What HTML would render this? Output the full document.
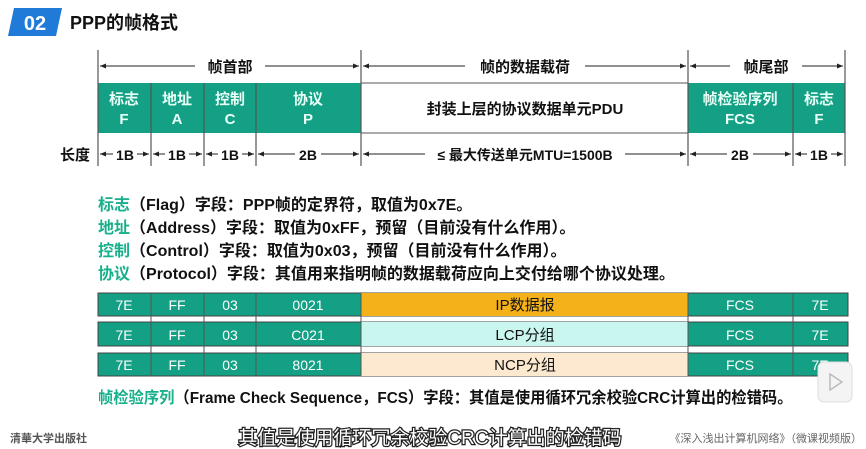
<!DOCTYPE html>
<html><head><meta charset="utf-8"><style>
body{margin:0;width:866px;height:449px;background:#fff;overflow:hidden;position:relative;font-family:"Liberation Sans","Noto Sans CJK SC",sans-serif;}
.a{position:absolute;white-space:nowrap;}
.t{font-weight:bold;font-size:16px;color:#111;transform-origin:0 50%;}
.g{color:#18b08c;}
</style></head><body>
<svg width="866" height="449" style="position:absolute;left:0;top:0" font-family="Liberation Sans, Noto Sans CJK SC, sans-serif">
<defs><marker id="ar" markerWidth="6" markerHeight="6" refX="6" refY="3" orient="auto-start-reverse"><path d="M0,0.5 L6,3 L0,5.5z" fill="#222"/></marker></defs>
<polygon points="14,8 62,8 56,36 8,36" fill="#1f7ad8"/>
<text x="35" y="30" fill="#fff" font-size="20" font-weight="bold" text-anchor="middle">02</text>
<text x="70" y="29" fill="#111" font-size="18" font-weight="bold">PPP的帧格式</text>
<rect x="98" y="83" width="263" height="50" fill="#14a085"/>
<rect x="688" y="83" width="157" height="50" fill="#14a085"/>
<rect x="361" y="83" width="327" height="50" fill="#fff" stroke="#555" stroke-width="1"/>
<g stroke="#555" stroke-width="1.2">
<line x1="98" y1="50" x2="98" y2="166"/><line x1="151" y1="83" x2="151" y2="166"/><line x1="204" y1="83" x2="204" y2="166"/><line x1="256" y1="83" x2="256" y2="166"/><line x1="361" y1="50" x2="361" y2="166"/><line x1="688" y1="50" x2="688" y2="166"/><line x1="793" y1="83" x2="793" y2="166"/><line x1="845" y1="50" x2="845" y2="166"/>
</g>
<g stroke="#222" stroke-width="1" marker-start="url(#ar)" marker-end="url(#ar)">
<line x1="100" y1="66" x2="359" y2="66"/><line x1="363" y1="66" x2="686" y2="66"/><line x1="690" y1="66" x2="843" y2="66"/>
<line x1="100" y1="154" x2="149" y2="154"/><line x1="153" y1="154" x2="202" y2="154"/><line x1="206" y1="154" x2="254" y2="154"/><line x1="258" y1="154" x2="359" y2="154"/><line x1="363" y1="154" x2="686" y2="154"/><line x1="690" y1="154" x2="791" y2="154"/><line x1="795" y1="154" x2="843" y2="154"/>
</g>
<g font-weight="bold" font-size="15" text-anchor="middle" fill="#111">
<rect x="195" y="56" width="70" height="20" fill="#fff"/><text x="230" y="72">帧首部</text>
<rect x="465" y="56" width="120" height="20" fill="#fff"/><text x="525" y="72">帧的数据载荷</text>
<rect x="730" y="56" width="72" height="20" fill="#fff"/><text x="766" y="72">帧尾部</text>
<text x="525" y="114">封装上层的协议数据单元PDU</text>
<text x="75" y="160">长度</text>
</g>
<g font-weight="bold" font-size="14" text-anchor="middle" fill="#111">
<rect x="113" y="145" width="24" height="18" fill="#fff"/><text x="125" y="160">1B</text>
<rect x="165" y="145" width="24" height="18" fill="#fff"/><text x="177" y="160">1B</text>
<rect x="218" y="145" width="24" height="18" fill="#fff"/><text x="230" y="160">1B</text>
<rect x="295" y="145" width="26" height="18" fill="#fff"/><text x="308" y="160">2B</text>
<rect x="425" y="145" width="200" height="18" fill="#fff"/><text x="525" y="160">≤ 最大传送单元MTU=1500B</text>
<rect x="727" y="145" width="26" height="18" fill="#fff"/><text x="740" y="160">2B</text>
<rect x="807" y="145" width="24" height="18" fill="#fff"/><text x="819" y="160">1B</text>
</g>
<g font-weight="bold" font-size="15" text-anchor="middle" fill="#e8fff8">
<text x="124" y="104">标志</text><text x="124" y="124">F</text>
<text x="177" y="104">地址</text><text x="177" y="124">A</text>
<text x="230" y="104">控制</text><text x="230" y="124">C</text>
<text x="308" y="104">协议</text><text x="308" y="124">P</text>
<text x="740" y="104">帧检验序列</text><text x="740" y="124">FCS</text>
<text x="819" y="104">标志</text><text x="819" y="124">F</text>
</g>
<g>
<rect x="98" y="293" width="750" height="23" fill="#14a085" stroke="#444"/>
<rect x="361" y="293" width="327" height="23" fill="#f5b11a"/>
<rect x="98" y="322" width="750" height="24" fill="#14a085" stroke="#444"/>
<rect x="361" y="322" width="327" height="24" fill="#c9f6ef"/>
<rect x="98" y="353" width="750" height="23" fill="#14a085" stroke="#444"/>
<rect x="361" y="353" width="327" height="23" fill="#fde9cf"/>
</g>
<g stroke="#555" stroke-width="1">
<line x1="151" y1="293" x2="151" y2="376"/><line x1="204" y1="293" x2="204" y2="376"/><line x1="256" y1="293" x2="256" y2="376"/><line x1="361" y1="293" x2="361" y2="376"/><line x1="688" y1="293" x2="688" y2="376"/><line x1="793" y1="293" x2="793" y2="376"/>
</g>
<g font-size="14" text-anchor="middle" fill="#fff">
<text x="124" y="310">7E</text><text x="177" y="310">FF</text><text x="230" y="310">03</text><text x="308" y="310">0021</text><text x="740" y="310">FCS</text><text x="820" y="310">7E</text>
<text x="124" y="340">7E</text><text x="177" y="340">FF</text><text x="230" y="340">03</text><text x="308" y="340">C021</text><text x="740" y="340">FCS</text><text x="820" y="340">7E</text>
<text x="124" y="370">7E</text><text x="177" y="370">FF</text><text x="230" y="370">03</text><text x="308" y="370">8021</text><text x="740" y="370">FCS</text><text x="820" y="370">7E</text>
</g>
<g font-size="15" text-anchor="middle" fill="#111">
<text x="525" y="310">IP数据报</text><text x="525" y="340">LCP分组</text><text x="525" y="370">NCP分组</text>
</g>
<rect x="818" y="362" width="34" height="40" rx="6" fill="#f4f4f4" stroke="#ddd"/>
<path d="M830,374 L842,382 L830,390z" fill="none" stroke="#bbb" stroke-width="1.5"/>
<text x="10" y="442" font-size="11" fill="#555" font-weight="bold">清華大学出版社</text>
<text x="430" y="444" font-size="19" fill="#fff" stroke="#222" stroke-width="2.5" paint-order="stroke" text-anchor="middle">其值是使用循环冗余校验CRC计算出的检错码</text>
<text x="862" y="442" font-size="11" fill="#666" text-anchor="end">《深入浅出计算机网络》（微课视频版）</text>
</svg>
<div class="a t" style="left:98px;top:191px"><span class="g">标志</span>（Flag）字段：PPP帧的定界符，取值为0x7E。</div>
<div class="a t" style="left:98px;top:214px"><span class="g">地址</span>（Address）字段：取值为0xFF，预留（目前没有什么作用）。</div>
<div class="a t" style="left:98px;top:237px"><span class="g">控制</span>（Control）字段：取值为0x03，预留（目前没有什么作用）。</div>
<div class="a t" style="left:98px;top:260px"><span class="g">协议</span>（Protocol）字段：其值用来指明帧的数据载荷应向上交付给哪个协议处理。</div>
<div class="a t" style="left:98px;top:384px;transform:scaleX(0.955)"><span class="g">帧检验序列</span>（Frame Check Sequence，FCS）字段：其值是使用循环冗余校验CRC计算出的检错码。</div>
</body></html>
